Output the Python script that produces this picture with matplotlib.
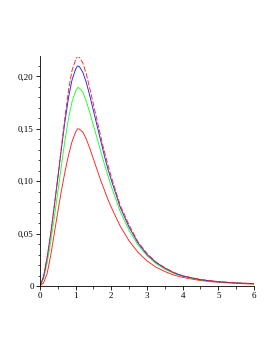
import numpy as np
import matplotlib.pyplot as plt
from matplotlib.ticker import MultipleLocator, FuncFormatter

x = [0, 0.1, 0.2, 0.3, 0.4, 0.5, 0.6, 0.7, 0.8, 0.9, 1.0, 1.05, 1.1,
     1.2, 1.3, 1.4, 1.5, 1.6, 1.7, 1.8, 1.9, 2.0, 2.25, 2.5, 2.75, 3.0,
     3.25, 3.5, 3.75, 4.0, 4.5, 5.0, 5.5, 6.0]

red_dash = [0, 0.009, 0.027, 0.050, 0.076, 0.104, 0.133, 0.161, 0.187, 0.206,
            0.216, 0.219, 0.2185, 0.213, 0.202, 0.188, 0.173, 0.158, 0.143,
            0.129, 0.116, 0.104, 0.077, 0.058, 0.042, 0.031, 0.023, 0.0175,
            0.013, 0.0098, 0.0062, 0.0042, 0.0030, 0.0023]
blue = [0, 0.009, 0.027, 0.050, 0.076, 0.103, 0.131, 0.157, 0.180, 0.197,
        0.207, 0.210, 0.2095, 0.204, 0.194, 0.181, 0.167, 0.153, 0.139,
        0.125, 0.112, 0.101, 0.075, 0.056, 0.041, 0.030, 0.0225, 0.017,
        0.0127, 0.0096, 0.0060, 0.0041, 0.0029, 0.0022]
green = [0, 0.007, 0.022, 0.042, 0.065, 0.090, 0.115, 0.139, 0.160, 0.176,
         0.186, 0.1893, 0.189, 0.185, 0.176, 0.165, 0.153, 0.141, 0.129,
         0.117, 0.106, 0.095, 0.071, 0.053, 0.039, 0.029, 0.0215, 0.016,
         0.012, 0.0092, 0.0058, 0.0040, 0.0028, 0.0021]
red = [0, 0.003, 0.012, 0.029, 0.050, 0.071, 0.091, 0.109, 0.125, 0.138,
       0.147, 0.150, 0.1498, 0.147, 0.140, 0.131, 0.121, 0.111, 0.101,
       0.092, 0.083, 0.075, 0.057, 0.043, 0.032, 0.024, 0.018, 0.0138,
       0.0105, 0.0082, 0.0052, 0.0035, 0.0025, 0.0018]

fig = plt.figure(figsize=(2.77, 3.58), dpi=100)
ax = fig.add_axes([40 / 277, 72 / 358, 214 / 277, 229.5 / 358])

ax.plot(x, red, color='#ff2020', lw=0.65)
ax.plot(x, green, color='#20ff20', lw=0.65)
ax.plot(x, blue, color='#2020ff', lw=0.65)
ax.plot(x, red_dash, color='#ff2020', lw=0.65, dashes=(6, 2))

ax.set_xlim(0, 6)
ax.set_ylim(0, 0.219)

for s in ['top', 'right']:
    ax.spines[s].set_visible(False)
for s in ['left', 'bottom']:
    ax.spines[s].set_linewidth(0.6)

ax.xaxis.set_major_locator(MultipleLocator(1))
ax.xaxis.set_minor_locator(MultipleLocator(0.5))
ax.yaxis.set_major_locator(MultipleLocator(0.05))
ax.yaxis.set_minor_locator(MultipleLocator(0.01))

def ylab(v, pos):
    if abs(v) < 1e-9:
        return '0'
    return ('%.2f' % v).replace('.', ',')

ax.yaxis.set_major_formatter(FuncFormatter(ylab))
ax.tick_params(which='major', length=3, width=0.6, labelsize=6.5, pad=1.5)
ax.tick_params(which='minor', length=1.8, width=0.5)
for lab in ax.get_xticklabels() + ax.get_yticklabels():
    lab.set_family('Liberation Serif')

fig.savefig('out.png', dpi=100)
